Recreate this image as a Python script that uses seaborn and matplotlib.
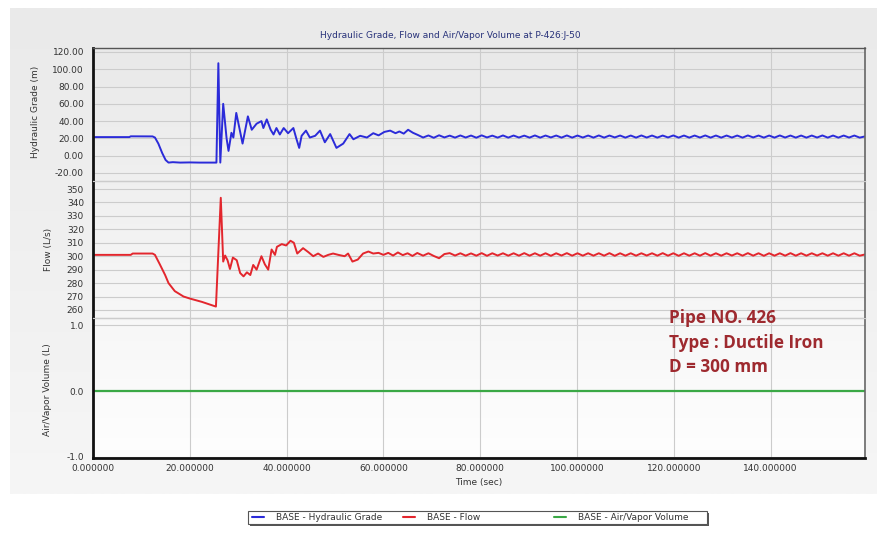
import numpy as np
import pandas as pd
import seaborn as sns
import matplotlib.pyplot as plt
from matplotlib.colors import LinearSegmentedColormap
from matplotlib.patches import Rectangle
from matplotlib.lines import Line2D

# ---------------- data ----------------
# transient part of the hydraulic grade at P-426:J-50 (time in s, head in m)
hg_time = [0.0, 7.5, 7.8, 12.3, 12.8, 13.5, 14.3, 15.0, 15.6, 16.5, 18.0, 20.0, 22.0,
           24.0, 25.5, 25.9, 26.3, 26.9, 27.6, 28.0, 28.6, 29.0, 29.6, 30.9, 32.0, 32.8,
           33.8, 34.8, 35.2, 35.9, 36.7, 37.3, 37.9, 38.6, 39.4, 40.3, 41.4, 42.0, 42.6,
           43.1, 44.0, 44.8, 45.9, 46.9, 47.9, 49.0, 50.3, 51.7, 53.0, 53.8, 55.2, 56.6,
           57.9, 59.0, 60.2, 61.4, 62.5, 63.3, 64.2, 65.1, 66.1, 67.1]
hg_head = [21.5, 21.5, 22.4, 22.3, 21.0, 14.0, 3.0, -5.0, -8.0, -7.5, -8.0, -7.8, -8.0,
           -8.0, -8.0, 107.0, -8.0, 60.0, 20.0, 5.5, 26.5, 21.0, 49.5, 14.0, 45.5, 30.0,
           37.0, 40.0, 32.0, 42.0, 30.0, 24.5, 32.0, 24.5, 32.0, 26.0, 32.0, 20.0, 9.0,
           23.0, 29.0, 21.0, 23.0, 29.0, 15.5, 25.0, 9.0, 14.0, 25.0, 19.0, 23.0, 21.0,
           26.0, 23.5, 27.5, 29.0, 26.0, 28.0, 25.5, 30.0, 26.5, 24.0]

# transient part of the pipe flow (time in s, flow in L/s)
flow_time = [0.0, 7.8, 8.2, 12.3, 12.8, 13.8, 14.9, 15.6, 16.9, 18.7, 20.0, 22.5, 25.4,
             26.4, 26.9, 27.3, 27.8, 28.3, 28.9, 29.7, 30.4, 31.1, 31.8, 32.5, 33.1, 33.8,
             34.8, 35.5, 36.2, 36.9, 37.6, 38.0, 39.0, 39.9, 40.8, 41.5, 42.2, 43.4, 44.5,
             45.5, 46.5, 47.6, 48.6, 49.6, 50.7, 52.0, 52.7, 53.6, 54.7, 55.8, 56.9, 57.9,
             59.0, 60.0, 61.0, 62.0, 63.0, 64.0, 65.0, 66.0, 67.0]
flow_rate = [301.0, 301.0, 302.0, 302.0, 301.0, 294.0, 286.0, 280.0, 274.0, 270.0, 268.5,
             266.0, 262.5, 343.5, 296.0, 300.5, 297.0, 290.5, 299.0, 297.0, 287.5, 285.0,
             288.0, 286.0, 293.5, 290.0, 300.0, 294.0, 290.0, 305.0, 301.0, 307.0, 309.0,
             308.0, 311.5, 310.0, 302.0, 306.0, 303.0, 300.0, 302.0, 299.5, 301.0, 302.0,
             301.0, 300.0, 302.0, 296.0, 297.5, 302.0, 303.5, 302.0, 302.5, 301.0, 302.5,
             300.5, 302.8, 300.8, 302.2, 300.2, 302.4]

# settled part: report times shared by both series
tail_time = [68.2, 69.3, 70.4, 71.5, 72.6, 73.7, 74.8, 75.9, 77.0, 78.1, 79.2, 80.3,
             81.4, 82.5, 83.6, 84.7, 85.8, 86.9, 88.0, 89.1, 90.2, 91.3, 92.4, 93.5,
             94.6, 95.7, 96.8, 97.9, 99.0, 100.1, 101.2, 102.3, 103.4, 104.5, 105.6, 106.7,
             107.8, 108.9, 110.0, 111.1, 112.2, 113.3, 114.4, 115.5, 116.6, 117.7, 118.8,
             119.9, 121.0, 122.1, 123.2, 124.3, 125.4, 126.5, 127.6, 128.7, 129.8, 130.9,
             132.0, 133.1, 134.2, 135.3, 136.4, 137.5, 138.6, 139.7, 140.8, 141.9, 143.0,
             144.1, 145.2, 146.3, 147.4, 148.5, 149.6, 150.7, 151.8, 152.9, 154.0, 155.1,
             156.2, 157.3, 158.4, 159.5]
hg_tail = [21.0, 23.4, 20.7, 23.6, 21.1, 23.2, 20.9, 23.4, 21.0, 23.3,
           20.8, 23.5, 21.1, 23.2, 20.9, 23.4, 20.9, 23.3, 21.0, 23.2,
           20.9, 23.4, 20.9, 23.3, 21.1, 23.3, 20.9, 23.4, 20.9, 23.3,
           21.0, 23.3, 20.9, 23.4, 20.9, 23.3, 21.1, 23.3, 20.9, 23.3,
           20.9, 23.4, 21.0, 23.3, 20.9, 23.3, 21.1, 23.4, 20.9, 23.3,
           20.9, 23.3, 21.0, 23.4, 20.9, 23.3, 20.9, 23.3, 21.0, 23.3,
           20.9, 23.4, 21.1, 23.3, 20.9, 23.3, 20.9, 23.4, 21.0, 23.3,
           20.9, 23.3, 20.9, 23.3, 21.0, 23.4, 20.9, 23.3, 20.9, 23.3,
           21.0, 23.3, 20.9, 22.3]
flow_tail = [300.4, 302.2, 300.2, 298.5, 301.6, 302.3, 300.5, 302.2, 300.4, 302.1,
             300.4, 302.3, 300.3, 302.2, 300.5, 302.2, 300.4, 302.2, 300.4, 302.3,
             300.4, 302.2, 300.4, 302.2, 300.3, 302.2, 300.5, 302.3, 300.4, 302.2,
             300.4, 302.2, 300.4, 302.2, 300.4, 302.3, 300.3, 302.2, 300.4, 302.2,
             300.4, 302.2, 300.5, 302.2, 300.4, 302.3, 300.4, 302.2, 300.3, 302.2,
             300.4, 302.2, 300.4, 302.3, 300.4, 302.2, 300.4, 302.2, 300.5, 302.2,
             300.4, 302.3, 300.4, 302.2, 300.3, 302.2, 300.4, 302.2, 300.4, 302.3,
             300.4, 302.2, 300.4, 302.2, 300.5, 302.2, 300.4, 302.2, 300.4, 302.2,
             300.4, 302.2, 300.4, 301.3]

# air/vapor volume stays at zero for the whole run
air_time = [0.0, 159.5]
air_volume = [0.0, 0.0]

x_ticks = [0, 20, 40, 60, 80, 100, 120, 140]
hg_ticks = [120, 100, 80, 60, 40, 20, 0, -20]
flow_ticks = [350, 340, 330, 320, 310, 300, 290, 280, 270, 260]
air_ticks = [1.0, 0.0, -1.0]

legend_labels = ["BASE - Hydraulic Grade", "BASE - Flow", "BASE - Air/Vapor Volume"]
note_lines = ["Pipe NO. 426", "Type : Ductile Iron", "D = 300 mm"]

hg_df = pd.DataFrame({"t": hg_time + tail_time, "v": hg_head + hg_tail})
flow_df = pd.DataFrame({"t": flow_time + tail_time, "v": flow_rate + flow_tail})
air_df = pd.DataFrame({"t": air_time, "v": air_volume})

# ---------------- styling ----------------
sns.set_theme(style="white")
plt.rcParams["font.family"] = ["DejaVu Sans"]

BLUE = "#2b2bd9"
RED = "#e3262d"
GREEN = "#3aa845"
TXT = "#333333"
GRID = "#cccccc"

W, H = 880, 548
fig = plt.figure(figsize=(W / 100, H / 100), dpi=100)
fig.patch.set_facecolor("white")


def rect(x0, y0, x1, y1):
    """Pixel box (top-left origin) to figure-fraction [left, bottom, width, height]."""
    return [x0 / W, 1 - y1 / H, (x1 - x0) / W, (y1 - y0) / H]


def gradient_axes(box, top, bottom, z):
    a = fig.add_axes(rect(*box), zorder=z)
    cmap = LinearSegmentedColormap.from_list("g", [top, bottom])
    a.imshow(np.linspace(0, 1, 256).reshape(-1, 1), cmap=cmap, aspect="auto",
             extent=[0, 1, 0, 1])
    a.set_axis_off()
    return a


# panel frame and plotting-area shading
gradient_axes((10, 8, 876, 494), "#eaeaea", "#f6f6f6", -3)
gradient_axes((93, 48, 865, 458), "#e9e9e9", "#fefefe", -2)

L, R = 93, 865
ax_hg = fig.add_axes(rect(L, 48, R, 181))
ax_fl = fig.add_axes(rect(L, 181, R, 318))
ax_air = fig.add_axes(rect(L, 318, R, 458))
axes = [ax_hg, ax_fl, ax_air]

sns.lineplot(data=hg_df, x="t", y="v", ax=ax_hg, color=BLUE, lw=1.4,
             errorbar=None, sort=False)
sns.lineplot(data=flow_df, x="t", y="v", ax=ax_fl, color=RED, lw=1.4,
             errorbar=None, sort=False)
sns.lineplot(data=air_df, x="t", y="v", ax=ax_air, color=GREEN, lw=1.6,
             errorbar=None, sort=False)

limits = [(-29.3, 124.6), (254.0, 356.0), (-1.02, 1.114)]
ticks = [hg_ticks, flow_ticks, air_ticks]
fmts = ["{:.2f}", "{:.0f}", "{:.1f}"]
ylabels = ["Hydraulic Grade (m)", "Flow (L/s)", "Air/Vapor Volume (L)"]
label_x = [-0.069, -0.052, -0.053]
label_y = [0.52, 0.5, 0.49]

for ax, lim, tk, fm, yl, lx, ly in zip(axes, limits, ticks, fmts, ylabels, label_x, label_y):
    ax.set_facecolor("none")
    ax.set_xlim(0, 159.5)
    ax.set_ylim(*lim)
    ax.set_xticks(x_ticks)
    ax.set_yticks(tk)
    ax.set_yticklabels([fm.format(v) for v in tk])
    ax.grid(True, color=GRID, lw=0.8)
    ax.set_axisbelow(True)
    ax.tick_params(axis="both", length=0, labelsize=6.5, labelcolor=TXT)
    ax.tick_params(axis="y", pad=6.5)
    ax.set_ylabel(yl, fontsize=6.5, color=TXT)
    ax.yaxis.set_label_coords(lx, ly)
    ax.set_xlabel("")
    ax.spines["left"].set_color("#111111")
    ax.spines["left"].set_linewidth(2.0)
    ax.spines["left"].set_capstyle("projecting")
    ax.spines["right"].set_color("#666666")
    ax.spines["right"].set_linewidth(1.2)
    ax.spines["right"].set_capstyle("projecting")
    for s in ("top", "bottom"):
        ax.spines[s].set_color(GRID)
        ax.spines[s].set_linewidth(0.9)

ax_hg.spines["top"].set_color("#555555")
ax_hg.spines["top"].set_linewidth(1.0)
ax_air.spines["bottom"].set_color("#111111")
ax_air.spines["bottom"].set_linewidth(2.0)

for ax in (ax_hg, ax_fl):
    ax.tick_params(axis="x", labelbottom=False)
ax_air.set_xticklabels([f"{v:.6f}" for v in x_ticks])
ax_air.tick_params(axis="x", pad=4)
ax_air.set_xlabel("Time (sec)", fontsize=6.5, color=TXT)
ax_air.xaxis.set_label_coords(0.5, -0.145)

fig.text(450 / W, 1 - 35 / H, "Hydraulic Grade, Flow and Air/Vapor Volume at P-426:J-50",
         ha="center", va="center", fontsize=6.5, color="#28327a")

# pipe description
for i, line in enumerate(note_lines):
    fig.text(669 / W, 1 - (318 + 24.5 * i) / H, line, ha="left", va="center",
             fontsize=12.3, fontweight="bold", family="Open Sans", color="#9e2a2f")

# legend strip with drop shadow
lx0, ly0, lx1, ly1 = 248, 511, 707, 524
shadow = Rectangle(((lx0 + 2) / W, 1 - (ly1 + 2) / H), (lx1 - lx0) / W, (ly1 - ly0) / H,
                   transform=fig.transFigure, facecolor="#555555", edgecolor="none",
                   zorder=5)
box = Rectangle((lx0 / W, 1 - ly1 / H), (lx1 - lx0) / W, (ly1 - ly0) / H,
                transform=fig.transFigure, facecolor="white", edgecolor="#555555",
                lw=0.8, zorder=6)
fig.patches.extend([shadow, box])
for color, label, x0 in zip([BLUE, RED, GREEN], legend_labels, [252, 403, 554]):
    handle = Line2D([], [], color=color, lw=1.5)
    lg = fig.legend(handles=[handle], labels=[label], loc="center left",
                    bbox_to_anchor=(x0 / W, 1 - 517.5 / H), frameon=False,
                    fontsize=6.5, handlelength=1.3, handletextpad=1.4, borderpad=0,
                    borderaxespad=0, labelcolor=TXT)
    lg.set_zorder(7)

fig.savefig("out.png", dpi=100, facecolor=fig.get_facecolor())
